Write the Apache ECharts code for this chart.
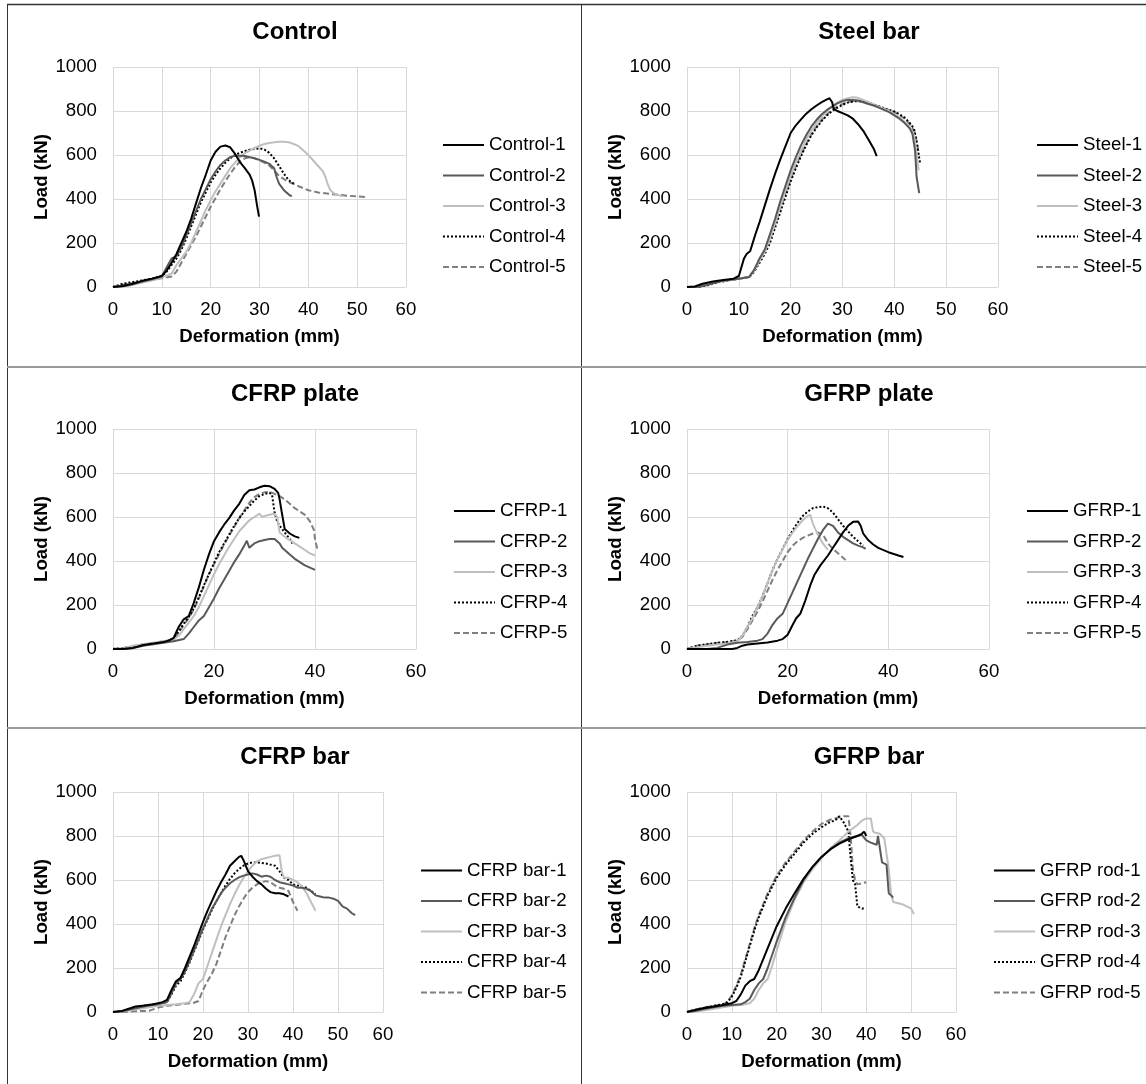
<!DOCTYPE html>
<html>
<head>
<meta charset="utf-8">
<script src="https://cdn.jsdelivr.net/npm/echarts@6/dist/echarts.min.js"></script>
<style>
html,body{margin:0;padding:0;background:#fff;}
#chart{width:1146px;height:1084px;}
</style>
</head>
<body>
<div id="chart"></div>
<script>
// ---------- DATA ----------
const panelTitles = ['Control', 'Steel bar', 'CFRP plate', 'GFRP plate', 'CFRP bar', 'GFRP bar'];
const seriesNames = [
  ['Control-1', 'Control-2', 'Control-3', 'Control-4', 'Control-5'],
  ['Steel-1', 'Steel-2', 'Steel-3', 'Steel-4', 'Steel-5'],
  ['CFRP-1', 'CFRP-2', 'CFRP-3', 'CFRP-4', 'CFRP-5'],
  ['GFRP-1', 'GFRP-2', 'GFRP-3', 'GFRP-4', 'GFRP-5'],
  ['CFRP bar-1', 'CFRP bar-2', 'CFRP bar-3', 'CFRP bar-4', 'CFRP bar-5'],
  ['GFRP rod-1', 'GFRP rod-2', 'GFRP rod-3', 'GFRP rod-4', 'GFRP rod-5']
];
const yTicks = [0, 200, 400, 600, 800, 1000];
const xTickStep = [10, 10, 20, 20, 10, 10];
const xMax = 60;
const yMax = 1000;
const xAxisTitle = 'Deformation (mm)';
const yAxisTitle = 'Load (kN)';

// Control
const control1 = [[0,0],[2,5],[4,15],[6,28],[8,38],[10,50],[11,75],[12,110],[13,150],[14,200],[15,250],[16,310],[17,380],[18,450],[19,510],[20,575],[21,615],[22,638],[23,643],[24,635],[25,605],[26,568],[27,540],[28,510],[28.5,483],[29,440],[29.5,370],[29.9,320]];
const control2 = [[0,0],[2,3],[4,12],[6,25],[8,35],[10,48],[11,90],[12,130],[13,140],[14,180],[15,235],[16,290],[17,345],[18,400],[19,445],[20,490],[21,525],[22,555],[23,575],[24,590],[25,597],[26,597],[27,595],[28,590],[29,585],[30,578],[31,570],[32,560],[33,540],[33.5,500],[34,470],[35,440],[36,420],[36.6,412]];
const control3 = [[0,0],[3,5],[6,20],[9,35],[12,60],[13,100],[14,130],[15,160],[16,200],[17,250],[18,300],[19,350],[20,395],[21,435],[22,470],[23,505],[24,540],[25,565],[26,590],[27,608],[28,620],[29,632],[30,642],[31,650],[32,655],[33,658],[34,660],[35,660],[36,658],[37,650],[38,640],[39,620],[40,600],[41,575],[42,550],[43,525],[43.5,500],[44,465],[44.5,440],[45.5,422],[47,412]];
const control4 = [[0,0],[2,15],[4,22],[6,30],[8,38],[10,50],[11,70],[12,100],[13,130],[14,170],[15,220],[16,275],[17,330],[18,385],[19,430],[20,475],[21,510],[22,540],[23,565],[24,585],[25,600],[26,610],[27,618],[28,624],[29,628],[30,630],[31,625],[32,610],[33,585],[34,550],[35,515],[36,485],[37,470]];
const control5 = [[0,0],[2,10],[4,18],[6,25],[8,32],[10,40],[12,48],[13,70],[14,110],[15,150],[16,190],[17,230],[18,275],[19,320],[20,365],[21,405],[22,445],[23,480],[24,515],[25,545],[26,570],[27,585],[28,590],[29,585],[30,575],[31,565],[32,552],[33,530],[34,505],[35,490],[36,478],[38,458],[40,440],[42,430],[45,422],[48,415],[50,412],[52,408]];

// Steel bar
const steel1 = [[0,0],[1.5,2],[3,15],[5,25],[7,32],[9,38],[10,50],[10.5,90],[11,130],[11.5,150],[12.2,164],[13.2,240],[14,295],[15,370],[16,445],[17,515],[18,580],[19,640],[20,700],[21,735],[22,762],[23,788],[24,808],[25,825],[26,840],[27,853],[27.5,858],[28,840],[28.3,810],[29,800],[30,790],[31,780],[32,765],[33,740],[34,710],[35,670],[36,630],[36.6,595]];
const steel2 = [[0,0],[2,0],[4,10],[6,25],[8,32],[10,38],[12,45],[13,80],[14,130],[15,170],[16,240],[17,310],[18,390],[19,460],[20,530],[21,590],[22,645],[23,690],[24,730],[25,760],[26,785],[27,805],[28,820],[29,835],[30,845],[31,850],[32,850],[33,848],[34,840],[35,832],[36,825],[37,815],[38,805],[39,795],[40,780],[41,765],[42,745],[43,720],[43.5,695],[44,620],[44.3,500],[44.8,427]];
const steel3 = [[0,0],[2,2],[4,12],[6,25],[8,30],[10,38],[12,45],[13,75],[14,120],[15,160],[16,220],[17,290],[18,365],[19,440],[20,505],[21,565],[22,620],[23,670],[24,710],[25,745],[26,775],[27,800],[28,820],[29,838],[30,850],[31,858],[32,862],[33,860],[34,850],[35,840],[36,830],[37,820],[38,810],[39,800],[40,785],[41,770],[42,750],[43,725],[43.8,690],[44.3,600],[44.7,530]];
const steel4 = [[0,0],[2,0],[4,8],[6,22],[8,30],[10,38],[12,45],[13,70],[14,110],[15,150],[16,200],[17,270],[18,340],[19,410],[20,480],[21,540],[22,595],[23,645],[24,690],[25,725],[26,755],[27,780],[28,800],[29,815],[30,828],[31,838],[32,843],[33,845],[34,843],[35,838],[36,830],[37,822],[38,812],[39,805],[40,798],[41,785],[42,770],[43,745],[43.8,720],[44.3,660],[44.7,600],[45,560]];
const steel5 = [[0,0],[2,0],[4,10],[6,22],[8,30],[10,38],[12,45],[13,80],[14,125],[15,165],[16,215],[17,285],[18,355],[19,425],[20,490],[21,550],[22,605],[23,650],[24,695],[25,730],[26,760],[27,785],[28,805],[29,820],[30,832],[31,840],[32,845],[33,845],[34,842],[35,836],[36,828],[37,820],[38,812],[39,805],[40,795],[41,782],[42,765],[43,740],[44,700],[44.5,640],[44.7,600]];

// CFRP plate
const cfrp1 = [[0,0],[2,0],[4,5],[6,18],[8,25],[10,32],[11,38],[12,50],[13,100],[14,135],[15,150],[16,210],[17,280],[18,360],[19,430],[20,490],[21,530],[22,565],[23,595],[24,630],[25,660],[26,700],[27,722],[28,725],[29,735],[30,742],[31,740],[32,728],[32.7,710],[33,680],[33.4,624],[34,545],[35,525],[36,512],[36.9,505]];
const cfrp2 = [[0,0],[2,0],[4,5],[6,15],[8,22],[10,28],[12,35],[14,45],[15,70],[16,100],[17,130],[18,150],[19,190],[20,230],[21,275],[22,315],[23,355],[24,395],[25,430],[26,470],[26.5,492],[27,460],[27.5,470],[28,480],[29,490],[30,495],[31,500],[32,500],[33,480],[33.5,460],[34,450],[35,430],[36,410],[37,395],[38,380],[39,370],[40,360]];
const cfrp3 = [[0,0],[2,3],[4,15],[6,22],[8,28],[10,35],[12,42],[13,60],[14,90],[15,120],[16,150],[17,190],[18,240],[19,290],[20,340],[21,385],[22,425],[23,465],[24,500],[25,535],[26,560],[27,585],[28,600],[29,615],[29.5,600],[30,605],[31,610],[32,615],[32.5,600],[33,530],[34,510],[35,495],[36,480],[37,465],[38,450],[39,435],[40,425]];
const cfrp4 = [[0,0],[2,3],[4,10],[6,20],[8,25],[10,32],[12,45],[13,80],[14,115],[15,145],[16,185],[17,235],[18,290],[19,340],[20,390],[21,440],[22,480],[23,520],[24,560],[25,595],[26,625],[27,650],[28,675],[29,695],[30,705],[31,710],[31.5,700],[32,620],[32.5,580],[33,560],[34,530],[35,500],[35.5,480]];
const cfrp5 = [[0,0],[2,5],[4,12],[6,22],[8,28],[10,35],[12,45],[13,75],[14,110],[15,140],[16,180],[17,230],[18,285],[19,340],[20,385],[21,430],[22,475],[23,515],[24,555],[25,595],[26,630],[27,665],[28,690],[29,705],[30,712],[31,715],[32,705],[33,695],[34,680],[35,660],[36,640],[37,625],[38,610],[39,580],[39.8,540],[40,500],[40.5,450]];

// GFRP plate
const gfrp1 = [[0,0],[5,0],[7,0],[9,0],[10,5],[11,15],[12,20],[14,25],[16,30],[18,38],[19,45],[20,65],[21,110],[21.7,140],[22.5,160],[23.5,220],[24.5,290],[25.3,336],[26.5,380],[28,425],[29,460],[30,495],[31,530],[32,560],[33,578],[34,580],[34.5,560],[35,525],[36,495],[37,475],[38,460],[40,440],[42,425],[43,418]];
const gfrp2 = [[0,0],[4,0],[6,5],[8,20],[10,28],[12,32],[14,38],[15,45],[16,70],[17,110],[18,140],[19,160],[20,210],[21,260],[22,310],[23,360],[24,410],[25,455],[26,500],[27,540],[28,570],[29,560],[30,530],[31,510],[32,495],[33,480],[34,470],[35,462],[35.5,455]];
const gfrp3 = [[0,0],[2,8],[4,15],[6,20],[8,25],[10,35],[11,60],[12,100],[13,140],[14,190],[15,240],[16,300],[17,360],[18,410],[19,455],[20,495],[21,530],[22,560],[23,585],[24,605],[24.5,610],[25,570],[26,520],[27,480],[28,450]];
const gfrp4 = [[0,0],[2,15],[4,22],[6,28],[8,32],[10,40],[11,60],[12,100],[13,150],[14,190],[15,240],[16,300],[17,360],[18,410],[19,455],[20,500],[21,540],[22,575],[23,605],[24,625],[25,640],[26,645],[27,648],[28,640],[29,620],[30,590],[31,560],[32,535],[33,510],[34,490],[35,470]];
const gfrp5 = [[0,0],[2,15],[4,20],[6,28],[8,32],[10,38],[11,55],[12,90],[13,130],[14,170],[15,215],[16,265],[17,315],[18,360],[19,400],[20,440],[21,470],[22,490],[23,505],[24,515],[25,525],[26,530],[27,520],[28,480],[29,455],[30,435],[31,415],[31.5,405]];

// CFRP bar
const cfrpBar1 = [[0,0],[2,5],[4,18],[5,25],[7,30],[9,35],[11,45],[12,55],[13,100],[14,140],[15,155],[16,200],[17,250],[18,300],[19,355],[20,410],[21,460],[22,505],[23,550],[24,590],[25,625],[26,665],[27,685],[28,705],[28.5,710],[29,690],[30,640],[31,615],[32,595],[33,580],[34,560],[35,545],[36,540],[37,540],[38,535],[39,525]];
const cfrpBar2 = [[0,0],[2,3],[4,12],[6,22],[8,30],[10,35],[12,45],[13,85],[14,130],[15,150],[16,185],[17,230],[18,280],[19,330],[20,380],[21,425],[22,470],[23,505],[24,540],[25,565],[26,585],[27,600],[28,612],[29,620],[30,625],[31,630],[32,625],[33,615],[34,620],[35,615],[36,600],[37,590],[38,585],[39,580],[40,575],[41,565],[42,565],[43,560],[44,550],[45,530],[46,525],[47,520],[48,520],[49,515],[50,505],[51,480],[52,470],[53,450],[53.8,440]];
const cfrpBar3 = [[0,0],[2,2],[4,8],[6,15],[8,22],[10,28],[12,32],[14,35],[16,40],[17,45],[18,80],[19,130],[20,150],[21,210],[22,270],[23,330],[24,390],[25,440],[26,490],[27,535],[28,575],[29,610],[30,640],[31,665],[32,685],[33,695],[34,700],[35,705],[36,710],[37,712],[37.5,640],[38,610],[39,610],[40,600],[41,590],[42,570],[43,540],[44,500],[45,460]];
const cfrpBar4 = [[0,0],[2,3],[4,15],[6,25],[8,32],[10,38],[12,45],[13,80],[14,120],[15,140],[16,180],[17,225],[18,275],[19,325],[20,375],[21,420],[22,465],[23,505],[24,540],[25,575],[26,605],[27,630],[28,650],[29,665],[30,675],[31,680],[32,680],[33,678],[34,675],[35,670],[36,665],[37,640],[38,610],[39,600],[40,580],[41,575],[42,570],[43,565],[44,550],[45,535]];
const cfrpBar5 = [[0,0],[2,0],[4,2],[6,5],[8,5],[10,20],[12,28],[14,32],[16,38],[18,42],[19,50],[20,100],[21,140],[22,175],[23,220],[24,280],[25,340],[26,390],[27,440],[28,480],[29,515],[30,545],[31,565],[32,580],[33,590],[34,595],[35,590],[36,575],[37,565],[38,560],[39,550],[40,500],[41,460]];

// GFRP bar
const gfrpRod1 = [[0,0],[2,10],[4,18],[6,25],[8,32],[10,40],[11,50],[12,80],[13,120],[14,140],[15,150],[16,190],[17,240],[18,290],[19,340],[20,390],[22,470],[24,540],[26,605],[28,660],[30,705],[32,740],[34,765],[36,785],[38,800],[39,810],[39.5,820],[40,800]];
const gfrpRod2 = [[0,0],[2,5],[4,15],[6,22],[8,28],[10,32],[12,35],[13,45],[14,60],[15,100],[16,130],[17,150],[18,200],[19,260],[20,320],[22,430],[24,520],[26,600],[28,660],[30,705],[32,740],[34,770],[36,790],[38,800],[39,805],[40,780],[41,770],[42.3,760],[42.6,800],[43,805],[43.5,680],[44.5,670],[45,540],[45.5,530],[46,520]];
const gfrpRod3 = [[0,0],[2,3],[4,8],[6,15],[8,22],[10,28],[12,32],[14,40],[15,60],[16,100],[17,130],[18,150],[19,210],[20,280],[22,410],[24,510],[26,590],[28,650],[30,700],[32,745],[34,780],[36,820],[38,850],[39,870],[40,880],[41,880],[41.5,820],[42,815],[43,810],[44,790],[45,650],[45.5,540],[46,500],[48,490],[50,470],[50.6,445]];
const gfrpRod4 = [[0,0],[2,10],[4,20],[6,28],[8,35],[9,45],[10,70],[11,110],[12,160],[13,230],[14,300],[15,370],[16,430],[17,480],[18,530],[19,570],[20,610],[22,670],[24,720],[26,770],[28,810],[30,840],[32,865],[33,870],[34,890],[35,860],[36,820],[36.5,700],[37,600],[37.5,580],[38,480],[39,470],[39.5,470]];
const gfrpRod5 = [[0,0],[2,12],[4,22],[6,28],[8,35],[9,45],[10,75],[11,120],[12,170],[13,240],[14,310],[15,380],[16,440],[17,490],[18,540],[19,580],[20,620],[22,680],[24,730],[26,780],[28,820],[30,855],[32,875],[34,885],[35,890],[36,890],[36.5,800],[37,650],[37.5,600],[38,580],[39,585],[40,590]];

const panelData = [
  [control1, control2, control3, control4, control5],
  [steel1, steel2, steel3, steel4, steel5],
  [cfrp1, cfrp2, cfrp3, cfrp4, cfrp5],
  [gfrp1, gfrp2, gfrp3, gfrp4, gfrp5],
  [cfrpBar1, cfrpBar2, cfrpBar3, cfrpBar4, cfrpBar5],
  [gfrpRod1, gfrpRod2, gfrpRod3, gfrpRod4, gfrpRod5]
];

// ---------- LAYOUT / STYLE ----------
const FONT = 'Arial, "Liberation Sans", sans-serif';
const FS = 18.67;
const layout = [
  {left: 113, top: 67,  width: 293, legL: 442,  legT: 134.5, tX: 295, tY: 20},
  {left: 687, top: 67,  width: 311, legL: 1036, legT: 134.5, tX: 869, tY: 20},
  {left: 113, top: 429, width: 303, legL: 453,  legT: 500.5, tX: 295, tY: 382},
  {left: 687, top: 429, width: 302, legL: 1026, legT: 500.5, tX: 869, tY: 382},
  {left: 113, top: 792, width: 270, legL: 420,  legT: 860,   tX: 295, tY: 745},
  {left: 687, top: 792, width: 269, legL: 993,  legT: 860,   tX: 869, tY: 745}
];
const lineStyles = [
  {color: '#000000', type: 'solid'},
  {color: '#595959', type: 'solid'},
  {color: '#bfbfbf', type: 'solid'},
  {color: '#000000', type: [2, 2]},
  {color: '#7f7f7f', type: [6, 3]}
];

const option = {
  animation: false,
  backgroundColor: '#ffffff',
  textStyle: {fontFamily: FONT},
  title: [], grid: [], xAxis: [], yAxis: [], legend: [], series: [],
  graphic: [
    {type: 'line', shape: {x1: 7, y1: 4.5, x2: 1146, y2: 4.5}, style: {stroke: '#333', lineWidth: 1.5}},
    {type: 'line', shape: {x1: 7.5, y1: 4, x2: 7.5, y2: 1084}, style: {stroke: '#333', lineWidth: 1}},
    {type: 'line', shape: {x1: 581.5, y1: 4, x2: 581.5, y2: 1084}, style: {stroke: '#333', lineWidth: 1}},
    {type: 'line', shape: {x1: 7, y1: 367, x2: 1146, y2: 367}, style: {stroke: '#9a9a9a', lineWidth: 2}},
    {type: 'line', shape: {x1: 7, y1: 728, x2: 1146, y2: 728}, style: {stroke: '#9a9a9a', lineWidth: 2}}
  ]
};

layout.forEach((L, p) => {
  option.title.push({
    text: panelTitles[p], left: L.tX, top: L.tY, textAlign: 'center', padding: 0,
    textStyle: {fontFamily: FONT, fontSize: 24, fontWeight: 'bold', color: '#000'}
  });
  option.grid.push({left: L.left, top: L.top, width: L.width, height: 220, containLabel: false});
  option.xAxis.push({
    gridIndex: p, type: 'value', min: 0, max: xMax, interval: xTickStep[p],
    name: xAxisTitle, nameLocation: 'middle', nameGap: 40,
    nameTextStyle: {fontFamily: FONT, fontSize: FS, fontWeight: 'bold', color: '#000'},
    axisLine: {show: true, lineStyle: {color: '#d9d9d9', width: 1}},
    axisTick: {show: false},
    axisLabel: {fontFamily: FONT, fontSize: FS, color: '#000', margin: 13, formatter: v => String(v)},
    splitLine: {show: true, lineStyle: {color: '#d9d9d9', width: 1}}
  });
  option.yAxis.push({
    gridIndex: p, type: 'value', min: yTicks[0], max: yMax, interval: yTicks[1] - yTicks[0],
    name: yAxisTitle, nameLocation: 'middle', nameGap: 62, nameRotate: 90,
    nameTextStyle: {fontFamily: FONT, fontSize: FS, fontWeight: 'bold', color: '#000'},
    axisLine: {show: false},
    axisTick: {show: false},
    axisLabel: {fontFamily: FONT, fontSize: FS, color: '#000', margin: 16, formatter: v => String(v)},
    splitLine: {show: true, lineStyle: {color: '#d9d9d9', width: 1}}
  });
  option.legend.push({
    data: seriesNames[p], orient: 'vertical', left: L.legL, top: L.legT, padding: 0,
    itemWidth: 41, itemHeight: 21, itemGap: 9.5,
    itemStyle: {opacity: 0, borderWidth: 0},
    textStyle: {fontFamily: FONT, fontSize: FS, color: '#000', lineHeight: 21},
    selectedMode: false
  });
  panelData[p].forEach((d, i) => {
    option.series.push({
      name: seriesNames[p][i], type: 'line', xAxisIndex: p, yAxisIndex: p,
      data: d, symbol: 'none', showSymbol: false, smooth: false,
      lineStyle: {color: lineStyles[i].color, type: lineStyles[i].type, width: 2},
      itemStyle: {color: lineStyles[i].color},
      z: 10 - i
    });
  });
});

const chart = echarts.init(document.getElementById('chart'), null, {renderer: 'canvas'});
chart.setOption(option);
</script>
</body>
</html>
